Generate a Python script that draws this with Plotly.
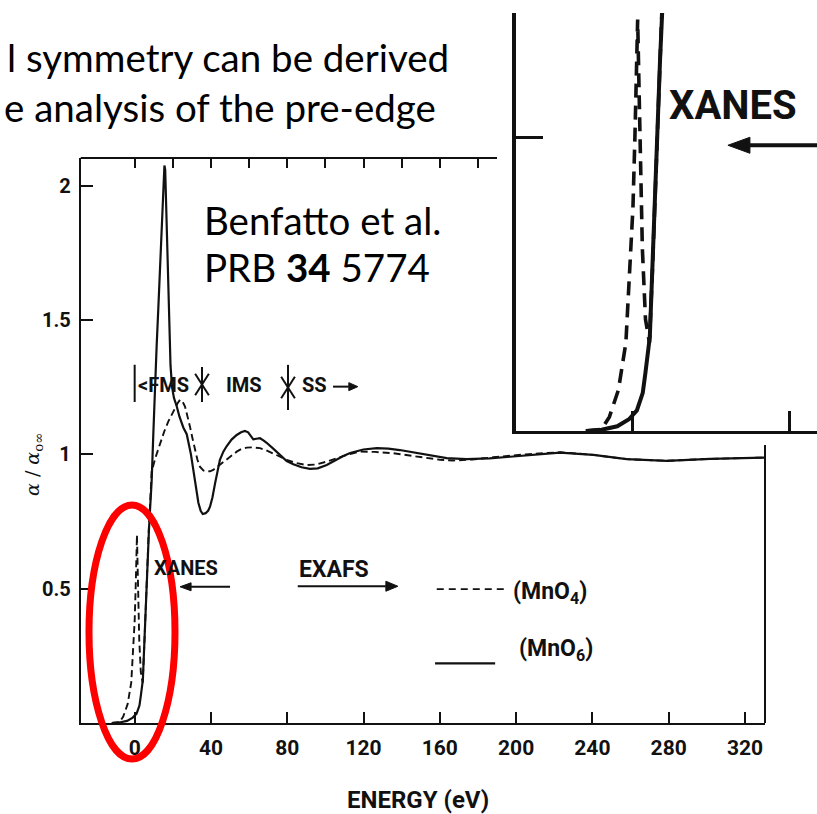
import plotly.graph_objects as go

# ---- data: normalised absorption alpha/alpha_0inf vs photoelectron energy (eV) ----
energy_mno6 = [-12, -8, -4, -1, 1, 2.5, 3.2, 3.8, 4.3, 4.8, 5.3, 5.8, 6.3, 6.9, 7.5,
               8.1, 8.9, 9.8, 10.6, 11.5, 12.5, 13.5, 14.5, 15.2, 15.6, 16.0, 16.6,
               17.3, 18.0, 18.8, 19.6, 20.6, 22.0, 23.5, 25.5, 27.3, 29.5, 31.6, 33.4,
               34.6, 35.7, 37.2, 38.5, 39.5, 40.8, 42.1, 43.4, 44.7, 46.5, 48.2, 50.8,
               53.5, 55.8, 57.8, 59.5, 61.0, 62.2, 63.8, 65.7, 67.5, 69.2, 72.5, 76.0,
               79.7, 83.2, 87.5, 91.9, 96.0, 100.7, 105.0, 109.4, 113.0, 119.9, 127.0,
               133.0, 139.0, 146.0, 153.0, 163.6, 174.0, 186.0, 196.8, 210.0, 223.0,
               240.5, 258.0, 279.0, 301.7, 330.0]
alpha_mno6 = [0.0, 0.002, 0.008, 0.02, 0.035, 0.065, 0.10, 0.14, 0.16, 0.25, 0.35,
              0.45, 0.54, 0.63, 0.72, 0.80, 0.90, 1.08, 1.26, 1.40, 1.56, 1.72, 1.90,
              2.02, 2.075, 2.06, 1.90, 1.68, 1.48, 1.33, 1.25, 1.21, 1.18, 1.14, 1.10,
              1.075, 1.00, 0.90, 0.82, 0.79, 0.778, 0.781, 0.79, 0.805, 0.84, 0.89,
              0.94, 0.98, 1.01, 1.03, 1.055, 1.072, 1.082, 1.087, 1.082, 1.068, 1.056,
              1.058, 1.06, 1.052, 1.043, 1.022, 1.0, 0.975, 0.963, 0.952, 0.946, 0.948,
              0.96, 0.978, 0.994, 1.005, 1.018, 1.023, 1.021, 1.016, 1.008, 0.998,
              0.986, 0.982, 0.985, 0.991, 0.999, 1.006, 0.998, 0.982, 0.976, 0.983,
              0.988]

energy_mno4 = [-12, -8, -6, -3.7, -1.8, -0.8, 0.0, 0.5, 0.9, 1.2, 1.5, 1.9, 2.4, 3.2,
               4.2, 5.0, 5.8, 6.6, 7.4, 8.2, 8.9, 11.0, 13.3, 15.5, 17.6, 19.5, 21.1,
               22.5, 23.8, 25.0, 26.4, 27.7, 29.0, 30.3, 31.6, 32.9, 34.2, 36.0, 37.8,
               39.5, 41.2, 43.8, 46.5, 50.0, 53.5, 56.0, 58.7, 62.0, 65.7, 69.0, 72.7,
               76.0, 79.7, 85.0, 90.2, 95.0, 100.7, 106.0, 112.0, 118.0, 126.0, 135.6,
               144.0, 153.0, 160.0, 167.0, 177.0, 188.0, 205.0, 223.0, 240.5, 258.0,
               279.0, 301.7, 330.0]
alpha_mno4 = [0.0, 0.003, 0.024, 0.07, 0.15, 0.27, 0.38, 0.50, 0.62, 0.70, 0.60, 0.45,
              0.31, 0.19, 0.15, 0.28, 0.44, 0.59, 0.72, 0.83, 0.936, 0.99, 1.041,
              1.085, 1.122, 1.15, 1.172, 1.19, 1.203, 1.198, 1.178, 1.145, 1.103, 1.06,
              1.016, 0.98, 0.954, 0.94, 0.936, 0.937, 0.942, 0.957, 0.973, 0.993, 1.01,
              1.02, 1.025, 1.026, 1.023, 1.015, 1.004, 0.992, 0.979, 0.967, 0.960,
              0.962, 0.973, 0.987, 1.0, 1.01, 1.009, 1.004, 0.996, 0.985, 0.98, 0.977,
              0.981, 0.989, 1.0, 1.008, 0.998, 0.982, 0.976, 0.983, 0.988]

x_ticks = [0, 40, 80, 120, 160, 200, 240, 280, 320]
x_tick_text = [str(v) for v in x_ticks]
y_ticks = [0.5, 1, 1.5, 2]
y_tick_text = ["0.5", "1", "1.5", "2"]
top_ticks = [0, 20, 40, 60, 80, 100, 120, 140, 160, 180]

assert len(energy_mno6) == len(alpha_mno6)
assert len(energy_mno4) == len(alpha_mno4)

W, H = 817, 814


def px(x):
    return x / W


def py(y):
    return 1 - y / H


# pixel geometry of the two panels
MAIN = dict(x0=80.7, x1=765.0, y0=723.0, y1=158.0, xr=(-28.3, 330.5), yr=(0.0, 2.103))
ZOOM = dict(x0=516.0, x1=817.0, y0=431.0, y1=13.0, xr=(-29.8, 46.9), yr=(0.0, 0.711))


def to_px(panel, e, a):
    fx = (e - panel["xr"][0]) / (panel["xr"][1] - panel["xr"][0])
    fy = (a - panel["yr"][0]) / (panel["yr"][1] - panel["yr"][0])
    return (panel["x0"] + fx * (panel["x1"] - panel["x0"]),
            panel["y0"] + fy * (panel["y1"] - panel["y0"]))


NARROW = "Roboto, Liberation Sans Narrow, Arial Narrow, sans-serif"
SLIDE = "Lato, Carlito, Calibri, sans-serif"
INK = "#111111"

fig = go.Figure()

# main panel
fig.add_trace(go.Scatter(x=energy_mno4, y=alpha_mno4, mode="lines",
                         line=dict(color=INK, width=1.9, dash="7px,4px"),
                         xaxis="x", yaxis="y", showlegend=False))
fig.add_trace(go.Scatter(x=energy_mno6, y=alpha_mno6, mode="lines",
                         line=dict(color=INK, width=2.2),
                         xaxis="x", yaxis="y", showlegend=False))
# enlarged edge region
fig.add_trace(go.Scatter(x=energy_mno4, y=alpha_mno4, mode="lines",
                         line=dict(color=INK, width=3.6, dash="14px,8px"),
                         xaxis="x2", yaxis="y2", showlegend=False))
fig.add_trace(go.Scatter(x=energy_mno6, y=alpha_mno6, mode="lines",
                         line=dict(color=INK, width=4),
                         xaxis="x2", yaxis="y2", showlegend=False))
# carrier for the top tick row
fig.add_trace(go.Scatter(x=[], y=[], xaxis="x3", yaxis="y", showlegend=False))

xtickfont = dict(family=NARROW, size=21, color=INK, weight="bold")
ytickfont = dict(family=NARROW, size=20, color=INK, weight="bold")

fig.update_layout(
    width=W, height=H,
    margin=dict(l=0, r=0, t=0, b=0),
    paper_bgcolor="white", plot_bgcolor="rgba(0,0,0,0)",
    xaxis=dict(domain=[px(MAIN["x0"]), px(MAIN["x1"])], range=list(MAIN["xr"]),
               anchor="y", showgrid=False, zeroline=False, showline=True,
               linecolor=INK, linewidth=2, ticks="inside", ticklen=11, tickwidth=2,
               tickcolor=INK, tickvals=x_ticks, ticktext=x_tick_text,
               tickfont=xtickfont, ticklabelstandoff=5),
    yaxis=dict(domain=[py(MAIN["y0"]), py(MAIN["y1"])], range=list(MAIN["yr"]),
               anchor="x", showgrid=False, zeroline=False, showline=True,
               linecolor=INK, linewidth=2, ticks="inside", ticklen=12, tickwidth=2,
               tickcolor=INK, tickvals=y_ticks, ticktext=y_tick_text,
               tickfont=ytickfont, ticklabelstandoff=4),
    xaxis3=dict(overlaying="x", side="top", anchor="y", range=list(MAIN["xr"]),
                showgrid=False, zeroline=False, showline=False,
                ticks="inside", ticklen=10, tickwidth=2, tickcolor=INK,
                tickvals=top_ticks, showticklabels=False),
    xaxis2=dict(domain=[px(ZOOM["x0"]), 1.0], range=list(ZOOM["xr"]), anchor="y2",
                showgrid=False, zeroline=False, showline=True, linecolor=INK,
                linewidth=3, ticks="inside", ticklen=20, tickwidth=3,
                tickcolor=INK, tickvals=[0, 40], showticklabels=False),
    yaxis2=dict(domain=[py(ZOOM["y0"]), py(ZOOM["y1"])], range=list(ZOOM["yr"]),
                anchor="x2", showgrid=False, zeroline=False, showline=True,
                linecolor=INK, linewidth=4, ticks="inside", ticklen=27, tickwidth=3,
                tickcolor=INK, tickvals=[0.5], showticklabels=False),
)

shapes = []
# partial frame lines of the main panel
shapes.append(dict(type="line", xref="paper", yref="paper", x0=px(80.7), x1=px(497),
                   y0=py(158), y1=py(158), line=dict(color=INK, width=2)))
shapes.append(dict(type="line", xref="paper", yref="paper", x0=px(765), x1=px(765),
                   y0=py(445), y1=py(723), line=dict(color=INK, width=2)))

# legend samples
shapes.append(dict(type="line", xref="x", yref="y", x0=158.4, x1=195.1, y0=0.498,
                   y1=0.498, line=dict(color=INK, width=1.8, dash="7px,5px")))
shapes.append(dict(type="line", xref="x", yref="y", x0=157.5, x1=189.0, y0=0.222,
                   y1=0.222, line=dict(color=INK, width=2.2)))

# region markers on the FMS / IMS / SS row
shapes.append(dict(type="line", xref="x", yref="y", x0=0, x1=0, y0=1.195, y1=1.333,
                   line=dict(color=INK, width=2)))


def star(e, y_lo, y_hi, de=3.6, dy=0.04):
    yc = (y_lo + y_hi) / 2
    line = dict(color=INK, width=2)
    return [
        dict(type="line", xref="x", yref="y", x0=e, x1=e, y0=y_lo, y1=y_hi, line=line),
        dict(type="line", xref="x", yref="y", x0=e - de, x1=e + de, y0=yc - dy,
             y1=yc + dy, line=line),
        dict(type="line", xref="x", yref="y", x0=e - de, x1=e + de, y0=yc + dy,
             y1=yc - dy, line=line),
    ]


shapes += star(35.3, 1.195, 1.325)
shapes += star(80.4, 1.165, 1.333)


def arrow(panel, e_tail, e_head, a, width, head_len, head_half):
    """Horizontal arrow with a filled head, placed in paper space."""
    tx, ty = to_px(panel, e_tail, a)
    hx, hy = to_px(panel, e_head, a)
    d = 1 if hx > tx else -1
    bx = hx - d * head_len
    out = [dict(type="line", xref="paper", yref="paper", x0=px(tx), x1=px(bx),
                y0=py(ty), y1=py(hy), line=dict(color=INK, width=width))]
    path = (f"M {px(hx):.5f},{py(hy):.5f} L {px(bx):.5f},{py(hy - head_half):.5f} "
            f"L {px(bx):.5f},{py(hy + head_half):.5f} Z")
    out.append(dict(type="path", xref="paper", yref="paper", path=path,
                    fillcolor=INK, line=dict(color=INK, width=1)))
    return out


shapes += arrow(MAIN, 50.0, 23.8, 0.507, 2, 11, 4)
shapes += arrow(MAIN, 85.5, 138.0, 0.509, 2, 12, 5)
shapes += arrow(MAIN, 104.0, 117.0, 1.252, 2, 9, 4)
shapes += arrow(ZOOM, 52.0, 24.2, 0.486, 4, 22, 8)

# red highlight around the edge
shapes.append(dict(type="circle", xref="paper", yref="paper", x0=px(89), x1=px(175),
                   y0=py(759), y1=py(505), line=dict(color="#FF0000", width=7)))

fig.update_layout(shapes=shapes)

ann = []
lab = dict(family=NARROW, size=20, color=INK, weight="bold")
lab_big = dict(family=NARROW, size=23, color=INK, weight="bold")

# main panel labels
ann.append(dict(xref="x", yref="y", x=8.9, y=0.577, text="XANES", showarrow=False,
                xanchor="left", yanchor="middle", font=lab))
ann.append(dict(xref="x", yref="y", x=85.3, y=0.573, text="EXAFS", showarrow=False,
                xanchor="left", yanchor="middle", font=lab_big))
ann.append(dict(xref="x", yref="y", x=0.6, y=1.258, text="&lt;FMS", showarrow=False,
                xanchor="left", yanchor="middle", font=lab))
ann.append(dict(xref="x", yref="y", x=47.0, y=1.258, text="IMS", showarrow=False,
                xanchor="left", yanchor="middle", font=lab))
ann.append(dict(xref="x", yref="y", x=86.5, y=1.258, text="SS", showarrow=False,
                xanchor="left", yanchor="middle", font=lab))

# legend labels
ann.append(dict(xref="x", yref="y", x=197.5, y=0.484, text="(MnO<sub>4</sub>)",
                showarrow=False, xanchor="left", yanchor="middle", font=lab_big))
ann.append(dict(xref="x", yref="y", x=200.5, y=0.272, text="(MnO<sub>6</sub>)",
                showarrow=False, xanchor="left", yanchor="middle", font=lab_big))

# axis titles
ann.append(dict(xref="paper", yref="paper", x=px(418), y=py(800),
                text="ENERGY (eV)", showarrow=False, xanchor="center",
                yanchor="middle", font=dict(family=NARROW, size=24, color=INK,
                                            weight="bold")))
ann.append(dict(xref="paper", yref="paper", x=px(33), y=py(465),
                text="<i>α</i> / <i>α</i><sub>o∞</sub>", showarrow=False,
                textangle=-90, xanchor="center", yanchor="middle",
                font=dict(family="DejaVu Serif, serif", size=19, color=INK)))

# enlarged panel label
ann.append(dict(xref="x2", yref="y2", x=8.6, y=0.554, text="XANES", showarrow=False,
                xanchor="left", yanchor="middle",
                font=dict(family=NARROW, size=40, color=INK, weight="bold")))

# slide text
slide_font = dict(family=SLIDE, size=38.5, color="black")
ann.append(dict(xref="paper", yref="paper", x=px(5), y=py(57),
                text="l symmetry can be derived", showarrow=False,
                xanchor="left", yanchor="middle", font=slide_font))
ann.append(dict(xref="paper", yref="paper", x=px(2), y=py(107),
                text="e analysis of the pre-edge", showarrow=False,
                xanchor="left", yanchor="middle", font=slide_font))
ann.append(dict(xref="paper", yref="paper", x=px(202), y=py(220),
                text="Benfatto et al.", showarrow=False,
                xanchor="left", yanchor="middle", font=slide_font))
ann.append(dict(xref="paper", yref="paper", x=px(202), y=py(267),
                text="PRB <b>34</b> 5774", showarrow=False,
                xanchor="left", yanchor="middle", font=slide_font))

fig.update_layout(annotations=ann)

fig.write_html("out.html")
